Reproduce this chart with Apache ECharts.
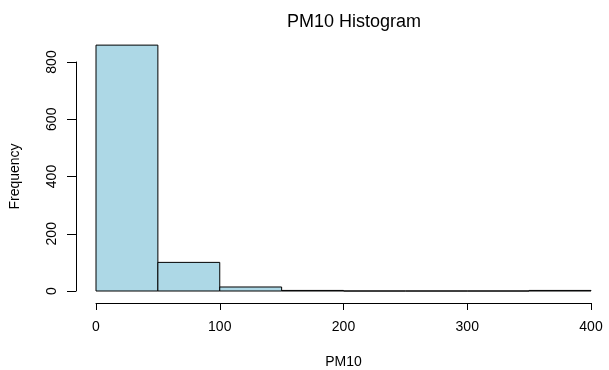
<!DOCTYPE html>
<html>
<head>
<meta charset="utf-8">
<script src="https://cdn.jsdelivr.net/npm/echarts@6/dist/echarts.min.js"></script>
<style>
  html, body { margin: 0; padding: 0; background: #fff; }
  #chart { width: 609px; height: 370px; }
</style>
</head>
<body>
<div id="chart"></div>
<script>
// histogram bins (PM10) and counts
const binStarts = [0, 50, 100, 150, 200, 250, 300, 350];
const binWidth = 50;
const counts = [859, 100, 14, 2, 0, 0, 0, 2];
const xTicks = [0, 100, 200, 300, 400];
const yTicks = [0, 200, 400, 600, 800];

const font = 'Liberation Sans, Arial, sans-serif';
const chart = echarts.init(document.getElementById('chart'));

const data = binStarts.map((s, i) => [s, s + binWidth, counts[i]]);

chart.setOption({
  animation: false,
  title: {
    text: 'PM10 Histogram',
    left: 349,
    top: 8,
    textAlign: 'center',
    textStyle: { fontFamily: font, fontSize: 18, fontWeight: 'normal', color: '#000' }
  },
  grid: { left: 96, right: 18, top: 62, bottom: 79, outerBoundsMode: 'none', containLabel: false },
  xAxis: {
    type: 'value',
    min: xTicks[0],
    max: xTicks[xTicks.length - 1],
    interval: 100,
    offset: 12,
    name: 'PM10',
    nameLocation: 'middle',
    nameGap: 52,
    nameTextStyle: { fontFamily: font, fontSize: 14, color: '#000' },
    axisLine: { show: true, onZero: false, lineStyle: { color: '#000', width: 1 } },
    axisTick: { show: true, length: 7, lineStyle: { color: '#000' } },
    axisLabel: { fontFamily: font, fontSize: 14, color: '#000', margin: 17, showMinLabel: true, showMaxLabel: true },
    splitLine: { show: false }
  },
  yAxis: {
    type: 'value',
    min: yTicks[0],
    max: yTicks[yTicks.length - 1],
    interval: 200,
    offset: 20,
    name: 'Frequency',
    nameLocation: 'middle',
    nameGap: 54,
    nameTextStyle: { fontFamily: font, fontSize: 14, color: '#000' },
    axisLine: { show: true, onZero: false, lineStyle: { color: '#000', width: 1 } },
    axisTick: { show: true, length: 9, lineStyle: { color: '#000' } },
    axisLabel: { fontFamily: font, fontSize: 14, color: '#000', rotate: 90, margin: 17 },
    splitLine: { show: false }
  },
  series: [{
    type: 'custom',
    clip: false,
    data: data,
    renderItem: (params, api) => {
      const p0 = api.coord([api.value(0), api.value(2)]);
      const p1 = api.coord([api.value(1), 0]);
      return {
        type: 'rect',
        shape: { x: p0[0], y: p0[1], width: p1[0] - p0[0], height: p1[1] - p0[1] },
        style: { fill: '#ADD8E6', stroke: '#000', lineWidth: 1 }
      };
    }
  }]
});
</script>
</body>
</html>
